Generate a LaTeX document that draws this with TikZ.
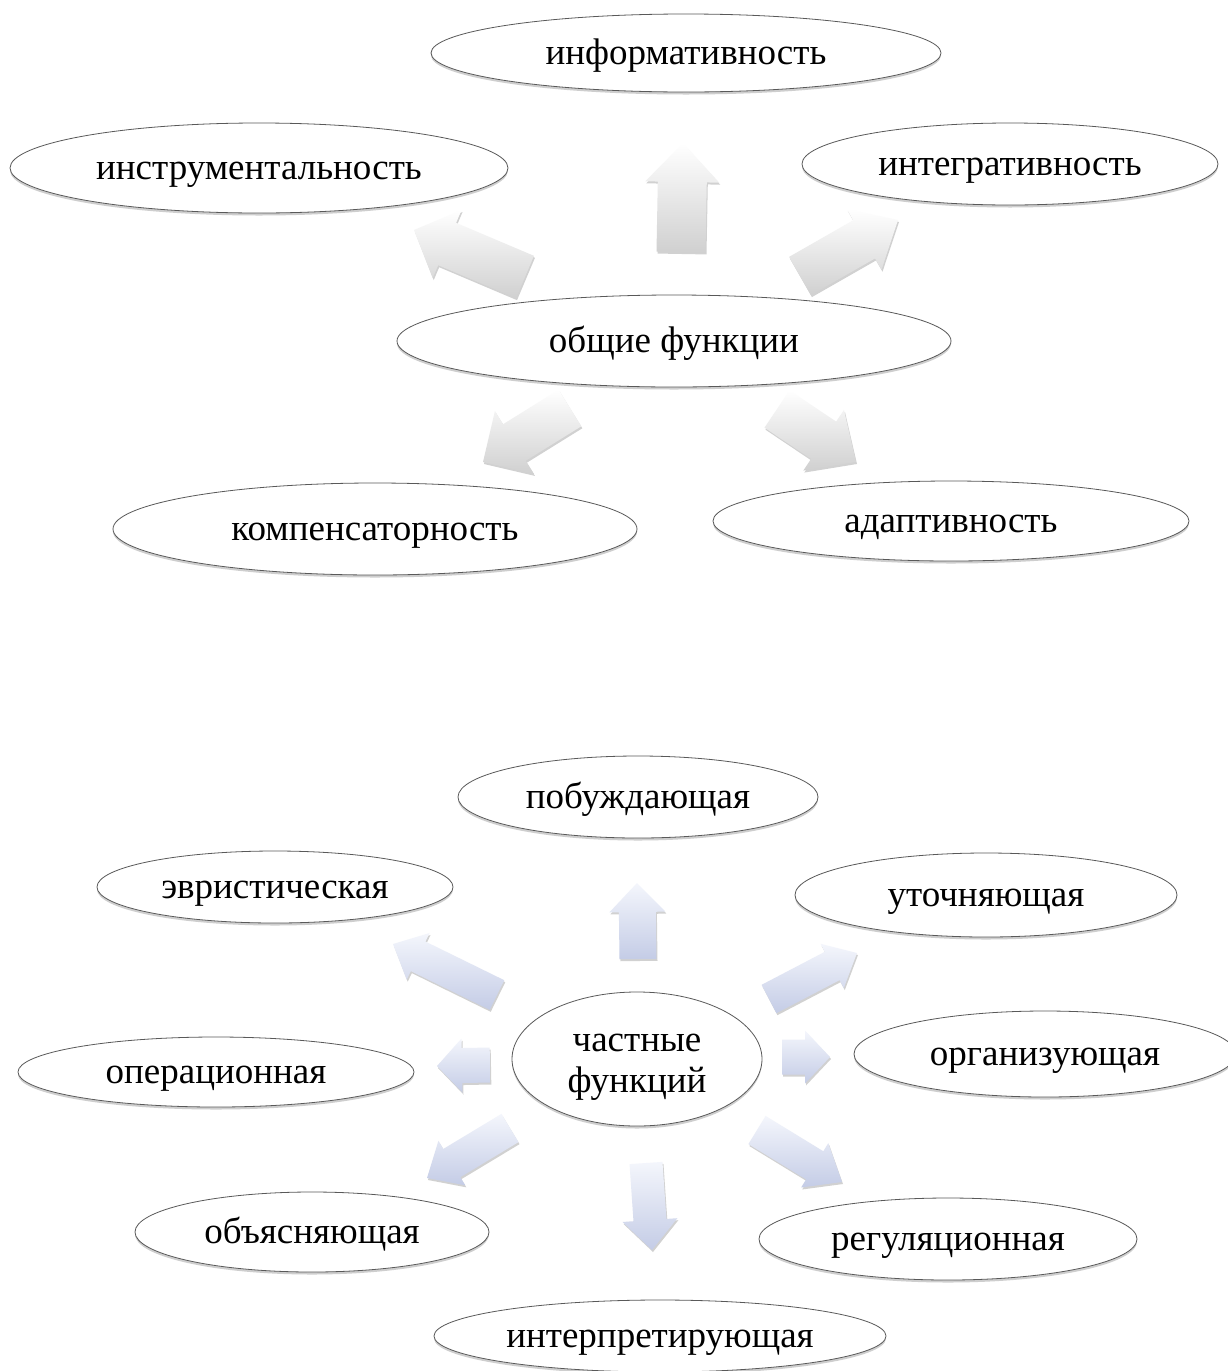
\documentclass[tikz,border=0pt]{standalone}
\usepackage{fontspec}
\setmainfont{Liberation Serif}
\usetikzlibrary{shapes.geometric,calc,shadows}
\definecolor{arrgray}{RGB}{208,208,208}
\definecolor{arrblue}{RGB}{196,204,230}
\definecolor{arrbluetop}{RGB}{244,246,252}
\tikzset{
  fnb/.style={ellipse, draw=black!65, line width=0.8pt, fill=white, inner sep=0pt,
    align=center, font=\fontsize{37}{41}\selectfont,
    drop shadow={shadow xshift=0pt, shadow yshift=-2.5pt, opacity=0.35, fill=black!55}},
  fn/.style={fnb, text height=30pt, text depth=8pt},
  grayarr/.style={top color=white, bottom color=arrgray,
    drop shadow={shadow xshift=1pt, shadow yshift=-2pt, opacity=0.18, fill=black}},
  bluearr/.style={top color=arrbluetop, bottom color=arrblue,
    drop shadow={shadow xshift=1pt, shadow yshift=-2pt, opacity=0.18, fill=black}}
}
% #1 style, #2 tail coordinate, #3 tip coordinate, #4 half shaft, #5 half head, #6 head length
\newcommand{\blockarrow}[6]{%
  \coordinate (hh) at ($(#3)!#6!(#2)$);
  \path[#1] ($(#2)!#4!90:(#3)$) -- ($(hh)!#4!-90:(#2)$) -- ($(hh)!#5!-90:(#2)$)
    -- (#3) -- ($(hh)!#5!90:(#2)$) -- ($(hh)!#4!90:(#2)$) -- ($(#2)!#4!-90:(#3)$) -- cycle;
}
\begin{document}
\begin{tikzpicture}[x=1pt,y=1pt]
\useasboundingbox (0,0) rectangle (1227,-1371);
\fill[white] (0,0) rectangle (1227,-1371);

% ---------- general functions ----------
\node[fn, minimum width=510pt, minimum height=78pt] (inf) at (686,-53) {информативность};
\node[fn, minimum width=498pt, minimum height=90pt] (instr) at (259,-168) {инструментальность};
\node[fn, minimum width=416pt, minimum height=82pt] (integr) at (1010,-164) {интегративность};
\node[fn, minimum width=554pt, minimum height=92pt] (gen) at (674,-341) {общие функции};
\node[fn, minimum width=524pt, minimum height=92pt] (komp) at (375,-529) {компенсаторность};
\node[fn, minimum width=476pt, minimum height=80pt] (adapt) at (951,-521) {адаптивность};

\coordinate (a1t) at (681,-252); \coordinate (a1h) at (683,-143);
\coordinate (a2t) at (525,-277); \coordinate (a2h) at (414,-230);
\coordinate (a3t) at (800,-276); \coordinate (a3h) at (898,-220);
\coordinate (a4t) at (570,-408); \coordinate (a4h) at (483,-462);
\coordinate (a5t) at (777,-409); \coordinate (a5h) at (856,-462);
\blockarrow{grayarr}{a1t}{a1h}{24.5pt}{37pt}{39pt}
\blockarrow{grayarr}{a2t}{a2h}{23pt}{37pt}{36pt}
\blockarrow{grayarr}{a3t}{a3h}{22pt}{35pt}{39pt}
\blockarrow{grayarr}{a4t}{a4h}{21.5pt}{37pt}{37pt}
\blockarrow{grayarr}{a5t}{a5h}{22.5pt}{36.5pt}{39pt}

% ---------- particular functions ----------
\node[fn, minimum width=360pt, minimum height=82pt] (pob) at (638,-797) {побуждающая};
\node[fn, minimum width=356pt, minimum height=72pt] (evr) at (275,-887) {эвристическая};
\node[fn, minimum width=382pt, minimum height=84pt] (utoch) at (986,-895) {уточняющая};
\node[fnb, minimum width=250pt, minimum height=134pt] (chast) at (637,-1059) {\rule{0pt}{33pt}частные\\функций};
\node[fn, minimum width=396pt, minimum height=70pt] (oper) at (216,-1072) {операционная};
\node[fn, minimum width=382pt, minimum height=86pt] (org) at (1045,-1054) {организующая};
\node[fn, minimum width=354pt, minimum height=80pt] (obyas) at (312,-1232) {объясняющая};
\node[fn, minimum width=378pt, minimum height=82pt] (reg) at (948,-1239) {регуляционная};
\node[fn, minimum width=452pt, minimum height=72pt] (interp) at (660,-1336) {интерпретирующая};

\coordinate (b1t) at (638,-959);  \coordinate (b1h) at (637,-883);
\coordinate (b2t) at (497,-995);  \coordinate (b2h) at (393,-944);
\coordinate (b3t) at (490,-1065); \coordinate (b3h) at (437,-1066);
\coordinate (b4t) at (510,-1128); \coordinate (b4h) at (427,-1178);
\coordinate (b5t) at (646,-1163); \coordinate (b5h) at (652,-1250);
\coordinate (b6t) at (757,-1130); \coordinate (b6h) at (842,-1182);
\coordinate (b7t) at (782,-1057); \coordinate (b7h) at (830,-1057);
\coordinate (b8t) at (769,-999);  \coordinate (b8h) at (857,-953);
\blockarrow{bluearr}{b1t}{b1h}{18.5pt}{28pt}{29pt}
\blockarrow{bluearr}{b2t}{b2h}{16.5pt}{26pt}{28pt}
\blockarrow{bluearr}{b3t}{b3h}{17.5pt}{27pt}{25pt}
\blockarrow{bluearr}{b4t}{b4h}{16.5pt}{26pt}{29pt}
\blockarrow{bluearr}{b5t}{b5h}{16.5pt}{27.5pt}{30pt}
\blockarrow{bluearr}{b6t}{b6h}{16.5pt}{26pt}{32pt}
\blockarrow{bluearr}{b7t}{b7h}{17.5pt}{26.5pt}{25pt}
\blockarrow{bluearr}{b8t}{b8h}{16pt}{25pt}{28pt}
\end{tikzpicture}
\end{document}
